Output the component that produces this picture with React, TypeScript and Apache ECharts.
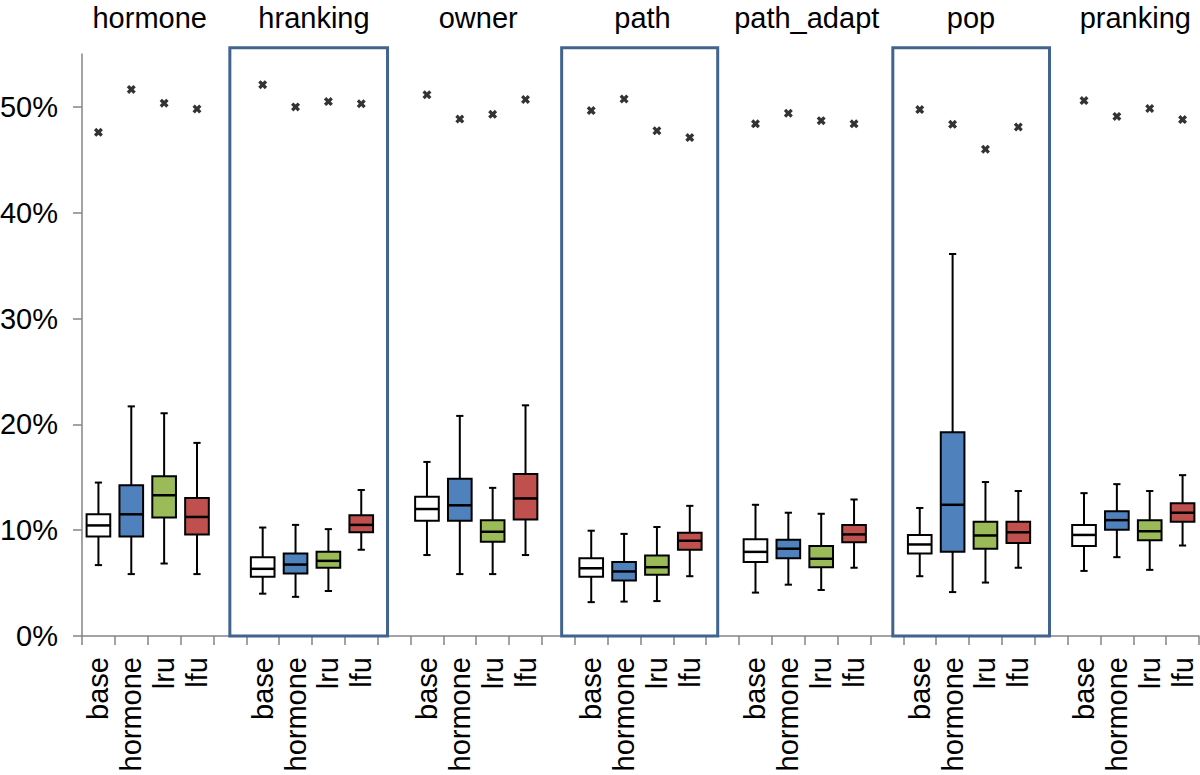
import React, { useEffect, useRef } from 'react';
import * as echarts from 'echarts';

// ---------------- data ----------------
const groups = ['hormone', 'hranking', 'owner', 'path', 'path_adapt', 'pop', 'pranking'];
const policies = ['base', 'hormone', 'lru', 'lfu'];
const yTickValues = [0, 10, 20, 30, 40, 50];

// values in %, 4 per group in order base, hormone, lru, lfu
const whiskerLow = [
  6.7, 5.85, 6.85, 5.85,
  4.0, 3.7, 4.25, 8.15,
  7.65, 5.85, 5.85, 7.65,
  3.2, 3.25, 3.3, 5.65,
  4.1, 4.85, 4.35, 6.45,
  5.65, 4.15, 5.05, 6.45,
  6.15, 7.45, 6.25, 8.55,
];
const quartileLow = [
  9.4, 9.4, 11.2, 9.6,
  5.6, 5.9, 6.45, 9.8,
  10.9, 10.9, 8.9, 11.0,
  5.6, 5.25, 5.8, 8.15,
  7.0, 7.35, 6.5, 8.85,
  7.8, 7.95, 8.25, 8.8,
  8.5, 10.05, 9.05, 10.8,
];
const medianValues = [
  10.45, 11.5, 13.3, 11.25,
  6.35, 6.75, 7.1, 10.5,
  12.0, 12.35, 9.85, 13.0,
  6.4, 6.1, 6.5, 9.0,
  7.95, 8.25, 7.3, 9.6,
  8.65, 12.4, 9.5, 9.8,
  9.55, 10.95, 9.9, 11.65,
];
const quartileHigh = [
  11.5, 14.25, 15.1, 13.05,
  7.45, 7.8, 7.95, 11.4,
  13.15, 14.85, 10.95, 15.3,
  7.35, 7.0, 7.6, 9.75,
  9.15, 9.1, 8.5, 10.5,
  9.55, 19.25, 10.8, 10.8,
  10.5, 11.8, 10.95, 12.55,
];
const whiskerHigh = [
  14.5, 21.7, 21.05, 18.25,
  10.25, 10.5, 10.1, 13.8,
  16.45, 20.8, 14.0, 21.8,
  9.95, 9.65, 10.3, 12.3,
  12.4, 11.65, 11.55, 12.9,
  12.1, 36.1, 14.55, 13.7,
  13.5, 14.35, 13.7, 15.2,
];
const topMarkers = [
  47.6, 51.65, 50.35, 49.8,
  52.1, 50.0, 50.5, 50.3,
  51.15, 48.85, 49.3, 50.7,
  49.65, 50.75, 47.75, 47.1,
  48.4, 49.4, 48.7, 48.4,
  49.75, 48.35, 46.0, 48.1,
  50.6, 49.1, 49.85, 48.8,
];
const framedGroups = ['hranking', 'path', 'pop'];

// ---------------- styles / layout ----------------
const policyColors = ['#ffffff', '#4f81bd', '#9bbb59', '#c0504d'];
const FONT = '"Liberation Sans", Arial, Helvetica, sans-serif';
const AXIS_GRAY = '#858585';
const FRAME_COLOR = '#41648f';
const FRAME_TOP_VALUE = 55.6;
// frame edges relative to the group's first slot, in slot widths
const frameEdges: Record<string, [number, number]> = {
  hranking: [-1.0, 3.8],
  path: [-0.9, 3.85],
  pop: [-0.82, 3.95],
};
const SLOTS_PER_GROUP = policies.length + 1;

const X_SYMBOL =
  'path://M0,2.6 L2.6,0 L5,2.4 L7.4,0 L10,2.6 L7.6,5 L10,7.4 L7.4,10 L5,7.6 L2.6,10 L0,7.4 L2.4,5 Z';

function slotOf(g: number, p: number) {
  return g * SLOTS_PER_GROUP + p;
}

export default function App() {
  const ref = useRef<HTMLDivElement>(null);

  useEffect(() => {
    if (!ref.current) return;
    const chart = echarts.init(ref.current, undefined, { renderer: 'svg' });

    const categories: string[] = [];
    groups.forEach((_, g) => {
      policies.forEach((p) => categories.push(p));
      if (g < groups.length - 1) categories.push('');
    });

    const boxData: number[][] = [];
    const markerData: number[][] = [];
    groups.forEach((_, g) => {
      policies.forEach((__, p) => {
        const i = g * policies.length + p;
        const s = slotOf(g, p);
        boxData.push([s, whiskerLow[i], quartileLow[i], medianValues[i], quartileHigh[i], whiskerHigh[i], p]);
        markerData.push([s, topMarkers[i]]);
      });
    });

    const frameData = framedGroups.map((name) => [slotOf(groups.indexOf(name), 0), framedGroups.indexOf(name)]);
    const titleData = groups.map((_, g) => [slotOf(g, 0), g]);

    const option: any = {
      animation: false,
      backgroundColor: '#ffffff',
      grid: {
        left: 82,
        right: 1,
        top: 54,
        bottom: 139,
        containLabel: false,
        outerBoundsMode: 'none',
      },
      xAxis: {
        type: 'category',
        data: categories,
        boundaryGap: true,
        axisLine: { show: true, lineStyle: { color: AXIS_GRAY, width: 1.5 } },
        axisTick: { show: true, interval: 0, length: 9, lineStyle: { color: AXIS_GRAY, width: 1.5 } },
        axisLabel: {
          interval: 0,
          rotate: 90,
          fontSize: 29,
          fontFamily: FONT,
          color: '#000',
          margin: 21,
        },
        splitLine: { show: false },
      },
      yAxis: {
        type: 'value',
        min: 0,
        max: 55,
        interval: 10,
        axisLine: { show: true, lineStyle: { color: AXIS_GRAY, width: 1.5 } },
        axisTick: { show: true, length: 9, customValues: yTickValues, lineStyle: { color: AXIS_GRAY, width: 1.5 } },
        axisLabel: {
          customValues: yTickValues,
          formatter: '{value}%',
          fontSize: 29,
          fontFamily: FONT,
          color: '#000',
          margin: 24,
        },
        splitLine: { show: false },
      },
      series: [
        {
          type: 'custom',
          name: 'frames',
          clip: false,
          z: 1,
          data: frameData,
          renderItem: (params: any, api: any) => {
            const s = api.value(0);
            const name = framedGroups[api.value(1)];
            const edges = frameEdges[name];
            const base = api.coord([s, 0]);
            const top = api.coord([s, FRAME_TOP_VALUE]);
            const slotW = api.size([1, 0])[0];
            const x1 = base[0] + edges[0] * slotW;
            const x2 = base[0] + edges[1] * slotW;
            return {
              type: 'rect',
              shape: { x: x1, y: top[1], width: x2 - x1, height: base[1] - top[1] },
              style: { fill: 'none', stroke: FRAME_COLOR, lineWidth: 3 },
            };
          },
        },
        {
          type: 'custom',
          name: 'titles',
          clip: false,
          data: titleData,
          renderItem: (params: any, api: any) => {
            const s = api.value(0);
            const g = api.value(1);
            const slotW = api.size([1, 0])[0];
            const p = api.coord([s, 55]);
            return {
              type: 'text',
              style: {
                text: groups[g],
                x: p[0] + 1.5 * slotW + 2,
                y: p[1] - 36,
                align: 'center',
                verticalAlign: 'middle',
                fontSize: 29,
                fontFamily: FONT,
                fill: '#000',
              },
            };
          },
        },
        {
          type: 'custom',
          name: 'boxes',
          clip: false,
          z: 3,
          data: boxData,
          renderItem: (params: any, api: any) => {
            const x = api.value(0);
            const lo = api.coord([x, api.value(1)]);
            const q1 = api.coord([x, api.value(2)]);
            const md = api.coord([x, api.value(3)]);
            const q3 = api.coord([x, api.value(4)]);
            const hi = api.coord([x, api.value(5)]);
            const slotW = api.size([1, 0])[0];
            const bw = slotW * 0.72;
            const cap = slotW * 0.22;
            const cx = lo[0];
            const fill = policyColors[api.value(6)];
            const ls = { stroke: '#000', lineWidth: 2 };
            return {
              type: 'group',
              children: [
                { type: 'line', shape: { x1: cx, y1: hi[1], x2: cx, y2: q3[1] }, style: ls },
                { type: 'line', shape: { x1: cx, y1: q1[1], x2: cx, y2: lo[1] }, style: ls },
                { type: 'line', shape: { x1: cx - cap / 2, y1: hi[1], x2: cx + cap / 2, y2: hi[1] }, style: ls },
                { type: 'line', shape: { x1: cx - cap / 2, y1: lo[1], x2: cx + cap / 2, y2: lo[1] }, style: ls },
                {
                  type: 'rect',
                  shape: { x: cx - bw / 2, y: q3[1], width: bw, height: q1[1] - q3[1] },
                  style: { fill, stroke: '#000', lineWidth: 2 },
                },
                {
                  type: 'line',
                  shape: { x1: cx - bw / 2, y1: md[1], x2: cx + bw / 2, y2: md[1] },
                  style: { stroke: '#000', lineWidth: 2.5 },
                },
              ],
            };
          },
        },
        {
          type: 'scatter',
          name: 'max',
          data: markerData,
          symbol: X_SYMBOL,
          symbolSize: 9,
          itemStyle: { color: '#000' },
          z: 4,
        },
      ],
    };

    chart.setOption(option);
    return () => chart.dispose();
  }, []);

  return (
    <div
      ref={ref}
      style={{ position: 'absolute', left: 0, top: 0, width: 1200, height: 775, background: '#fff' }}
    />
  );
}
